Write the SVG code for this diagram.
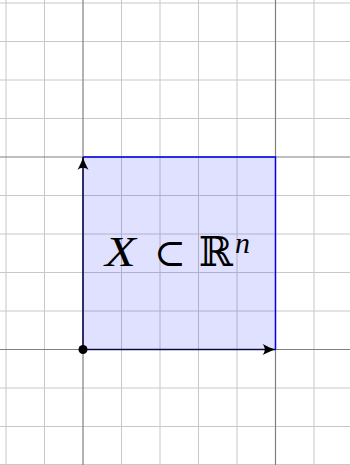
<svg xmlns="http://www.w3.org/2000/svg" width="350" height="465" viewBox="0 0 350 465">
<style>
.g{stroke:#c8c8c8;stroke-width:1}
.ax{stroke:#808080;stroke-width:1.2}
.t{font-family:"Liberation Serif","DejaVu Serif",serif;fill:#000}
</style>
<defs>
<marker id="ah" viewBox="-14 -6 15 12" refX="0" refY="0" markerWidth="15" markerHeight="12" markerUnits="userSpaceOnUse" orient="auto">
<path d="M0,0 C-4,-1 -9,-3.5 -13,-5.5 C-10,-2 -10,2 -13,5.5 C-9,3.5 -4,1 0,0 Z" fill="#000"/>
</marker>
</defs>
<rect width="350" height="465" fill="#fff"/>
<g id="grid">
<path class="g" d="M6,0V465M44.5,0V465M121.5,0V465M160,0V465M198.5,0V465M237,0V465M314,0V465M0,3H350M0,41.5H350M0,80H350M0,118.5H350M0,195.5H350M0,234H350M0,272.5H350M0,311H350M0,388H350M0,426.5H350M0,464.5H350"/>
<path class="ax" d="M83,0V465M275.5,0V465M0,157H350M0,349.5H350"/>
</g>
<g id="region">
<rect x="83" y="157" width="192.5" height="192.5" fill="#0000ff" fill-opacity="0.12"/>
<path d="M83,157H275.5V349.5" fill="none" stroke="#0000ee" stroke-width="1.4"/>
<path d="M83,349.5V157M83,349.5H275.5" fill="none" stroke="#1a1a80" stroke-width="1.4"/>
</g>
<g id="connectors">
<line x1="83" y1="349.5" x2="83" y2="157" stroke="#000" stroke-opacity="0.6" stroke-width="1" marker-end="url(#ah)"/>
<line x1="83" y1="349.5" x2="275.5" y2="349.5" stroke="#000" stroke-opacity="0.6" stroke-width="1" marker-end="url(#ah)"/>
</g>
<g id="origin">
<circle cx="83" cy="349.5" r="4.5" fill="#000"/>
</g>
<g id="label">
<text class="t" transform="translate(120.5,266) scale(1.2,1)" font-size="42" font-style="italic" text-anchor="middle">X</text>
<text class="t" x="170" y="266" font-size="38" text-anchor="middle" font-family="DejaVu Serif">⊂</text>
<text class="t" x="215.7" y="266" font-size="41" text-anchor="middle" font-family="DejaVu Serif">ℝ</text>
<text class="t" x="242.5" y="253" font-size="30" font-style="italic" text-anchor="middle">n</text>
</g>
</svg>
